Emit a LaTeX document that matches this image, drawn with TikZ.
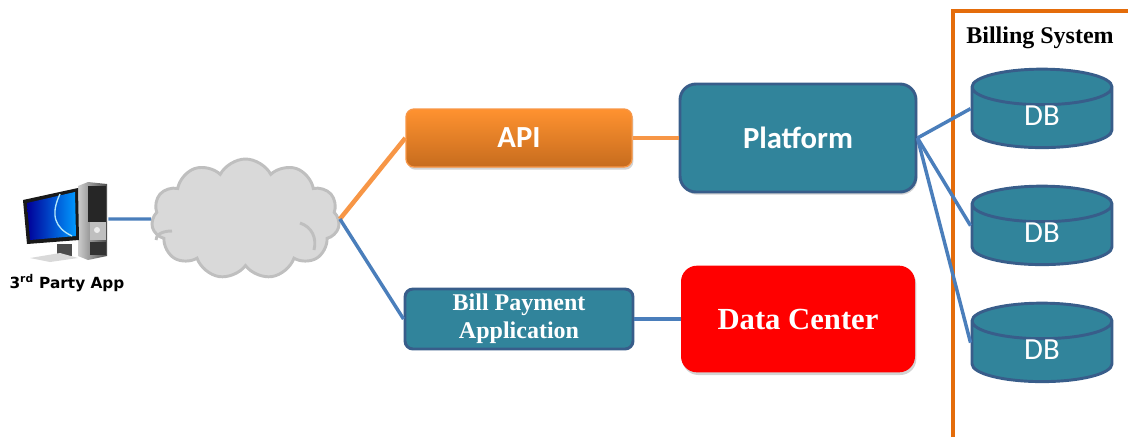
\documentclass[tikz,border=0pt]{standalone}
\usepackage{fontspec}
\setmainfont{Liberation Serif}
\newfontfamily\calfont{Carlito}
\newfontfamily\pcfont{DejaVu Sans}
\usetikzlibrary{shapes.geometric,shapes.symbols,shadows}
\definecolor{tealbox}{HTML}{31849B}
\definecolor{tealedge}{HTML}{385D8A}
\definecolor{blueline}{HTML}{4A7EBB}
\definecolor{orangeline}{HTML}{F79646}
\definecolor{orangetop}{HTML}{FF9230}
\definecolor{orangebottom}{HTML}{C66C1E}
\definecolor{frameorange}{HTML}{E46C0A}
\definecolor{cloudfill}{HTML}{D9D9D9}
\definecolor{cloudedge}{HTML}{BFBFBF}
\tikzset{
  bluelink/.style={blueline,line width=2.6pt},
  orangelink/.style={orangeline,line width=3.4pt},
  tealnode/.style={draw=tealedge,line width=2.2pt,fill=tealbox,rounded corners=12pt,text=white,align=center},
  dbnode/.style={cylinder,shape border rotate=90,shape aspect=1,draw=tealedge,line width=2.2pt,fill=tealbox,
    minimum width=105pt,minimum height=58pt,inner sep=0pt,text=white,font=\calfont\fontsize{23}{23}\selectfont},
  softshadow/.style={drop shadow={shadow xshift=1pt,shadow yshift=-2pt,opacity=.35}},
}
\begin{document}
\begin{tikzpicture}[x=.75pt,y=-.75pt]
\useasboundingbox (0,0) rectangle (1128,437);
% billing frame
\coordinate (F1) at (953,437);
\coordinate (F2) at (953,11);
\coordinate (F3) at (1128,11);
\draw[frameorange,line width=2.4pt] (F1)--(F2)--(F3);
\node (billing) at (1040,38) {\fontsize{18}{18}\selectfont\bfseries Billing System};
% computer
\node[minimum width=64.5pt,minimum height=60pt,inner sep=0pt] (pc) at (65,219) {};
\fill[black!70] (57,244) rectangle (72,256);
\fill[gray!30] (30,258)--(60,253)--(78,258)--(50,262)--cycle;
\shade[left color=gray!40,right color=black!70] (78,186)--(88,182)--(107,184)--(107,256)--(88,260)--(78,256)--cycle;
\fill[black!85] (88,186) rectangle (106,222);
\fill[gray!50] (90,222) rectangle (106,240);
\fill[white!85!gray] (97,230) circle (3);
\fill[black!80] (90,242) rectangle (106,255);
\fill[black!90] (23,200)--(78,188)--(79,240)--(27,244)--cycle;
\shade[left color=blue!60!black,right color=cyan!60!blue] (27,203)--(75,192)--(76,236)--(30,240)--cycle;
\draw[white!70!cyan,line width=1pt] (60,194) .. controls (50,215) and (55,228) .. (72,236);
\node[font=\pcfont\bfseries\fontsize{11.5}{12}\selectfont,inner sep=0pt] (pclabel) at (67,283) {3\textsuperscript{rd} Party App};
% cloud
\node[cloud,cloud puffs=11,cloud puff arc=125,aspect=1.56,draw=cloudedge,line width=2.2pt,fill=cloudfill,
  minimum width=141pt,minimum height=90pt,inner sep=0pt] (cloud) at (245.5,219) {};
\draw[cloudedge,line width=2.2pt] (172,231) .. controls (160,231) and (156,236) .. (156,240);
\draw[cloudedge,line width=2.2pt] (300,223) .. controls (312,227) and (317,238) .. (314,250);
% boxes
\node[tealnode,softshadow,minimum width=177pt,minimum height=81pt,font=\calfont\bfseries\fontsize{23}{23}\selectfont] (platform) at (798,138) {Platform};
\node[draw=orangeline,line width=1pt,top color=orangetop,bottom color=orangebottom,rounded corners=6pt,softshadow,
  minimum width=169.5pt,minimum height=43.5pt,text=white,font=\calfont\bfseries\fontsize{23}{23}\selectfont] (api) at (519,138) {API};
\node[tealnode,rounded corners=6pt,minimum width=171pt,minimum height=45pt,inner sep=0pt,
  font=\bfseries\fontsize{18}{21}\selectfont] (bill) at (519,319) {Bill Payment\\Application};
\node[fill=red,rounded corners=12pt,softshadow,minimum width=175.5pt,minimum height=80pt,text=white,
  font=\bfseries\fontsize{23}{23}\selectfont] (center) at (798,319) {Data Center};
\foreach \y/\n in {118/dbone,235/dbtwo,352/dbthree}
  \node[dbnode] (\n) at (1042,\y) {\raisebox{3pt}{DB}};
% links
\draw[bluelink] (pc.east)--(cloud.west);
\draw[orangelink] (cloud.east)--(api.west);
\draw[bluelink] (cloud.east)--(bill.west);
\draw[orangelink] (api.east)--(platform.west);
\draw[bluelink] (bill.east)--(center.west);
\foreach \n in {dbone,dbtwo,dbthree}
  \draw[bluelink] (platform.east)--([yshift=7pt]\n.west);
\end{tikzpicture}
\end{document}
